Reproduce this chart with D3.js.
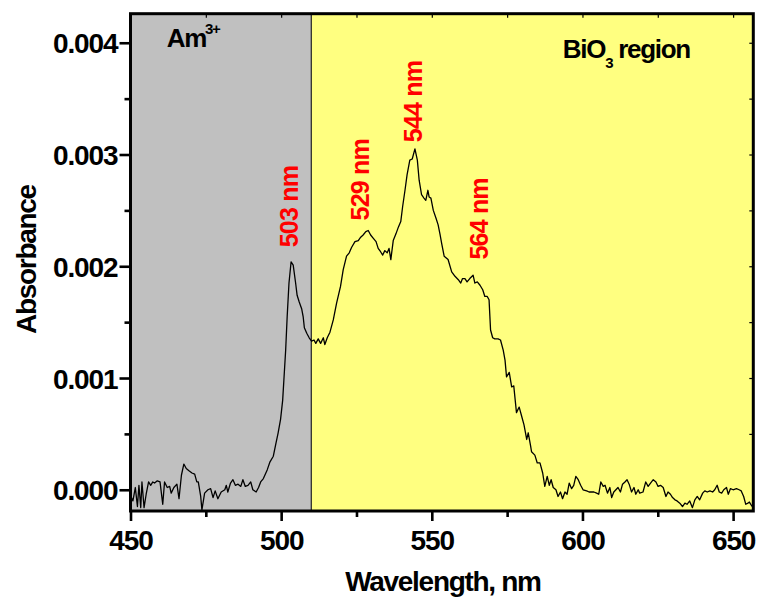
<!DOCTYPE html>
<html>
<head>
<meta charset="utf-8">
<script src="https://cdn.jsdelivr.net/npm/d3@7"></script>
<style>
  html, body { margin: 0; padding: 0; background: #fff; }
  svg { display: block; font-family: "Liberation Sans", Arial, sans-serif; font-weight: bold; }
</style>
</head>
<body>
<svg id="chart" width="761" height="601"></svg>
<script>
// ── Data ─────────────────────────────────────────────────────────────────────
const wavelength = [
  450.0, 450.3, 450.8, 451.6, 452.3, 452.8, 453.4, 453.8, 454.5, 455.2, 456.0, 456.7, 457.4, 458.0,
  458.9, 459.8, 460.7, 461.3, 462.2, 463.0, 463.5, 464.4, 465.4, 466.1, 466.9, 467.7, 468.5, 469.4,
  470.4, 471.3, 472.0, 472.5, 473.3, 473.7, 474.6, 475.7, 476.6, 477.4, 478.1, 479.0, 480.1, 481.3,
  481.8, 482.3, 483.2, 484.0, 484.8, 485.7, 486.6, 487.3, 488.1, 489.0, 489.9, 490.6, 491.7, 492.5,
  493.2, 494.1, 495.4, 496.3, 497.4, 498.3, 499.0, 499.8, 500.5, 500.9, 501.5, 502.0, 502.6, 503.3,
  504.0, 504.8, 505.3, 506.0, 506.8, 507.3, 507.7, 508.5, 509.3, 510.1, 510.9, 511.5, 512.3, 513.1,
  514.0, 514.5, 515.3, 516.2, 517.3, 518.4, 519.7, 520.6, 521.7, 522.6, 523.4, 524.5, 525.6, 526.4,
  527.2, 528.1, 528.9, 529.7, 530.6, 531.5, 532.2, 533.0, 533.7, 534.4, 535.2, 535.8, 536.4, 537.2,
  538.1, 538.9, 539.7, 540.3, 541.1, 541.8, 542.7, 543.5, 544.4, 545.2, 545.8, 546.6, 547.4, 548.0,
  548.7, 549.1, 549.7, 550.5, 551.4, 552.1, 552.7, 553.3, 554.1, 555.4, 556.6, 557.7, 558.8, 559.6,
  560.2, 561.0, 561.7, 562.6, 563.7, 564.3, 565.1, 566.0, 566.9, 567.6, 568.4, 569.0, 569.5, 570.2,
  570.9, 572.0, 572.8, 573.7, 574.3, 574.8, 575.7, 576.5, 577.2, 578.1, 579.0, 579.8, 580.6, 581.5,
  582.0, 582.8, 583.1, 584.2, 585.0, 585.9, 586.8, 587.5, 588.3, 589.0, 589.6, 590.3, 591.2, 591.9,
  592.7, 593.4, 594.2, 594.9, 595.6, 596.4, 597.1, 597.8, 598.6, 599.4, 600.2, 601.4, 602.2, 603.0,
  603.8, 604.7, 605.4, 606.1, 606.9, 607.5, 608.3, 609.1, 609.7, 610.4, 611.1, 611.8, 612.6, 613.3,
  614.1, 614.8, 615.5, 616.3, 617.1, 617.7, 618.5, 619.0, 620.1, 621.0, 621.8, 622.6, 623.5, 624.4,
  625.1, 625.9, 626.8, 627.7, 628.4, 629.2, 629.9, 630.7, 631.4, 632.3, 633.2, 634.0, 634.7, 635.6,
  636.5, 637.3, 638.1, 638.9, 639.9, 640.6, 641.4, 642.3, 643.2, 643.9, 644.7, 645.4, 646.2, 646.9,
  647.8, 648.4, 649.1, 650.0, 651.1, 652.0, 652.7, 653.5, 654.2, 654.9, 655.4, 656.3
];

const absorbance = [
  -0.00015, -0.00007, -0.00010, 0.00002, -0.00015, 0.00004, -0.00016, 0.00007, -0.00016, -0.00004, 0.00007, 0.00004, 0.00007, 0.00006,
  0.00008, 0.00007, -0.00013, 0.00007, 0.00002, 0.00003, -0.00003, 0.00002, 0.00005, -0.00008, 0.00013, 0.00023, 0.00019, 0.00017,
  0.00015, 0.00014, 0.00007, 0.00007, -0.00006, -0.00018, -0.00003, 0.00000, 0.00001, -0.00007, -0.00001, -0.00008, -0.00002, 0.00000,
  0.00004, -0.00002, 0.00006, 0.00009, 0.00004, 0.00005, 0.00003, 0.00009, 0.00003, 0.00004, 0.00007, 0.00000, -0.00002, 0.00002,
  0.00007, 0.00010, 0.00018, 0.00025, 0.00030, 0.00042, 0.00051, 0.00063, 0.00080, 0.00098, 0.00125, 0.00155, 0.00185, 0.00204,
  0.00201, 0.00185, 0.00174, 0.00168, 0.00162, 0.00155, 0.00145, 0.00140, 0.00136, 0.00133, 0.00134, 0.00131, 0.00135, 0.00131,
  0.00136, 0.00130, 0.00136, 0.00141, 0.00152, 0.00167, 0.00182, 0.00197, 0.00209, 0.00212, 0.00217, 0.00222, 0.00223, 0.00226,
  0.00228, 0.00231, 0.00232, 0.00228, 0.00225, 0.00222, 0.00216, 0.00213, 0.00210, 0.00214, 0.00212, 0.00216, 0.00206, 0.00223,
  0.00229, 0.00235, 0.00240, 0.00253, 0.00268, 0.00282, 0.00295, 0.00296, 0.00305, 0.00295, 0.00277, 0.00264, 0.00261, 0.00259,
  0.00268, 0.00262, 0.00261, 0.00250, 0.00243, 0.00237, 0.00229, 0.00220, 0.00209, 0.00206, 0.00195, 0.00191, 0.00188, 0.00185,
  0.00189, 0.00189, 0.00186, 0.00189, 0.00192, 0.00185, 0.00186, 0.00183, 0.00179, 0.00173, 0.00173, 0.00170, 0.00143, 0.00136,
  0.00135, 0.00135, 0.00134, 0.00125, 0.00116, 0.00101, 0.00105, 0.00092, 0.00093, 0.00069, 0.00074, 0.00066, 0.00058, 0.00045,
  0.00051, 0.00039, 0.00034, 0.00031, 0.00024, 0.00024, 0.00015, 0.00003, 0.00012, 0.00004, 0.00009, 0.00002, 0.00000, -0.00006,
  -0.00002, -0.00008, -0.00002, -0.00004, 0.00006, 0.00001, 0.00004, 0.00012, 0.00009, 0.00004, 0.00000, -0.00001, -0.00002, -0.00002,
  -0.00002, -0.00003, -0.00004, 0.00007, 0.00003, 0.00004, -0.00003, 0.00002, -0.00007, -0.00002, 0.00000, 0.00002, -0.00002, 0.00005,
  0.00007, 0.00009, 0.00005, -0.00002, 0.00002, -0.00004, 0.00000, -0.00003, -0.00002, 0.00007, 0.00003, 0.00006, 0.00009, 0.00007,
  0.00003, 0.00004, 0.00002, -0.00006, -0.00002, -0.00004, -0.00007, -0.00009, -0.00010, -0.00012, -0.00015, -0.00012, -0.00013, -0.00010,
  -0.00016, -0.00009, -0.00006, -0.00009, -0.00003, -0.00001, -0.00002, -0.00001, -0.00002, 0.00000, 0.00004, -0.00002, -0.00003, 0.00000,
  0.00002, -0.00004, 0.00001, 0.00000, 0.00001, 0.00000, -0.00001, -0.00006, -0.00013, -0.00012, -0.00011, -0.00015
];

// shaded regions (nm)
const regionNames  = ["Am", "BiO"];
const regionStart  = [450, 510];
const regionEnd    = [656.7, 656.7];
const regionColors = ["#c0c0c0", "#ffff80"];

// peak labels: text, wavelength of label centre, absorbance at label bottom
const peakText = ["503 nm", "529 nm", "544 nm", "564 nm"];
const peakX    = [502.6, 526.1, 543.7, 565.8];
const peakY    = [0.00217, 0.00241, 0.00311, 0.00206];

const xTicks = [450, 500, 550, 600, 650];
const yTicks = [0.000, 0.001, 0.002, 0.003, 0.004];

// ── Layout ────────────────────────────────────────────────────────────────────
const W = 761, H = 601;
const margin = { top: 13.7, right: 7.7, bottom: 90, left: 130.5 };
const innerW = W - margin.left - margin.right;
const innerH = H - margin.top - margin.bottom;

const svg = d3.select("#chart");
const g = svg.append("g").attr("transform", `translate(${margin.left},${margin.top})`);

const x = d3.scaleLinear().domain([450, 656.7]).range([0, innerW]);
const y = d3.scaleLinear().domain([-0.00019, 0.00426]).range([innerH, 0]);

svg.append("defs").append("clipPath").attr("id", "plot-clip")
  .append("rect").attr("width", innerW).attr("height", innerH);

// ── Background regions ────────────────────────────────────────────────────────
g.selectAll("rect.region")
  .data(regionNames).enter().append("rect")
  .attr("class", "region")
  .attr("x", (_, i) => x(regionStart[i]))
  .attr("y", 0)
  .attr("width", (_, i) => x(regionEnd[i]) - x(regionStart[i]))
  .attr("height", innerH)
  .attr("fill", (_, i) => regionColors[i]);

g.append("line")
  .attr("x1", x(regionStart[1])).attr("x2", x(regionStart[1]))
  .attr("y1", 0).attr("y2", innerH)
  .attr("stroke", "#222").attr("stroke-width", 1.2);

// ── Spectrum ──────────────────────────────────────────────────────────────────
const line = d3.line()
  .x((d, i) => x(wavelength[i]))
  .y(d => y(d));

g.append("path")
  .datum(absorbance)
  .attr("clip-path", "url(#plot-clip)")
  .attr("fill", "none")
  .attr("stroke", "#000")
  .attr("stroke-width", 1.3)
  .attr("stroke-linejoin", "round")
  .attr("d", line);

// ── Axes ──────────────────────────────────────────────────────────────────────
function styleAxis(sel) {
  sel.select(".domain").remove();
  sel.selectAll(".tick line").attr("stroke", "#000").attr("stroke-width", 2.6);
  sel.selectAll(".tick text")
    .attr("fill", "#000")
    .style("font-size", "28px")
    .style("font-weight", "bold")
    .style("letter-spacing", "-1.1px");
}

const xMinor = d3.range(475, 656, 50);
const yMinor = d3.range(0.0005, 0.0042, 0.001);

// bottom: outward ticks with labels
g.append("g").attr("transform", `translate(0,${innerH})`)
  .call(d3.axisBottom(x).tickValues(xTicks).tickSize(10).tickPadding(9).tickFormat(d3.format("d")))
  .call(styleAxis);
g.append("g").attr("transform", `translate(0,${innerH})`)
  .call(d3.axisBottom(x).tickValues(xMinor).tickSize(6).tickFormat(""))
  .call(styleAxis);

// left: outward ticks with labels
g.append("g")
  .call(d3.axisLeft(y).tickValues(yTicks).tickSize(11).tickPadding(2).tickFormat(d3.format(".3f")))
  .call(styleAxis)
  .selectAll(".tick text").attr("dy", "0.36em");
g.append("g")
  .call(d3.axisLeft(y).tickValues(yMinor).tickSize(6).tickFormat(""))
  .call(styleAxis);

// top and right: short inward ticks
g.append("g")
  .call(d3.axisTop(x).tickValues(d3.range(475, 656, 25)).tickSize(-4).tickFormat(""))
  .call(styleAxis)
  .selectAll(".tick line").attr("stroke-width", 1.2);
g.append("g").attr("transform", `translate(${innerW},0)`)
  .call(d3.axisRight(y).tickValues(d3.range(0.0005, 0.0042, 0.0005)).tickSize(-4).tickFormat(""))
  .call(styleAxis)
  .selectAll(".tick line").attr("stroke-width", 1.2);

// frame
g.append("rect")
  .attr("width", innerW).attr("height", innerH)
  .attr("fill", "none").attr("stroke", "#000").attr("stroke-width", 3);

// ── Axis titles ───────────────────────────────────────────────────────────────
svg.append("text")
  .attr("x", margin.left + x(553.7)).attr("y", 591)
  .attr("text-anchor", "middle")
  .style("font-size", "28px").style("letter-spacing", "-1.3px")
  .text("Wavelength, nm");

svg.append("text")
  .attr("transform", `translate(36,${margin.top + y(0.00206)}) rotate(-90)`)
  .attr("text-anchor", "middle")
  .style("font-size", "28px").style("letter-spacing", "-1.3px")
  .text("Absorbance");

// ── Region labels ─────────────────────────────────────────────────────────────
const amLabel = g.append("text")
  .attr("x", x(462)).attr("y", y(0.00396))
  .style("font-size", "26px").style("letter-spacing", "-1.3px");
amLabel.append("tspan").text(regionNames[0]);
amLabel.append("tspan").attr("dy", -13).attr("dx", -1).style("font-size", "15px").text("3+");

const bioLabel = g.append("text")
  .attr("x", x(593.5)).attr("y", y(0.00386))
  .style("font-size", "26px").style("letter-spacing", "-1.3px");
bioLabel.append("tspan").text(regionNames[1]);
bioLabel.append("tspan").attr("dy", 10).attr("dx", 0).style("font-size", "15px").text("3");
bioLabel.append("tspan").attr("dy", -10).attr("dx", 0).text(" region");

// ── Peak labels ───────────────────────────────────────────────────────────────
g.selectAll("text.peak")
  .data(peakText).enter().append("text")
  .attr("class", "peak")
  .attr("transform", (d, i) => `translate(${x(peakX[i]) + 9},${y(peakY[i])}) rotate(-90)`)
  .attr("fill", "#ff0000")
  .style("font-size", "25px")
  .style("letter-spacing", "-0.8px")
  .text(d => d);
</script>
</body>
</html>
